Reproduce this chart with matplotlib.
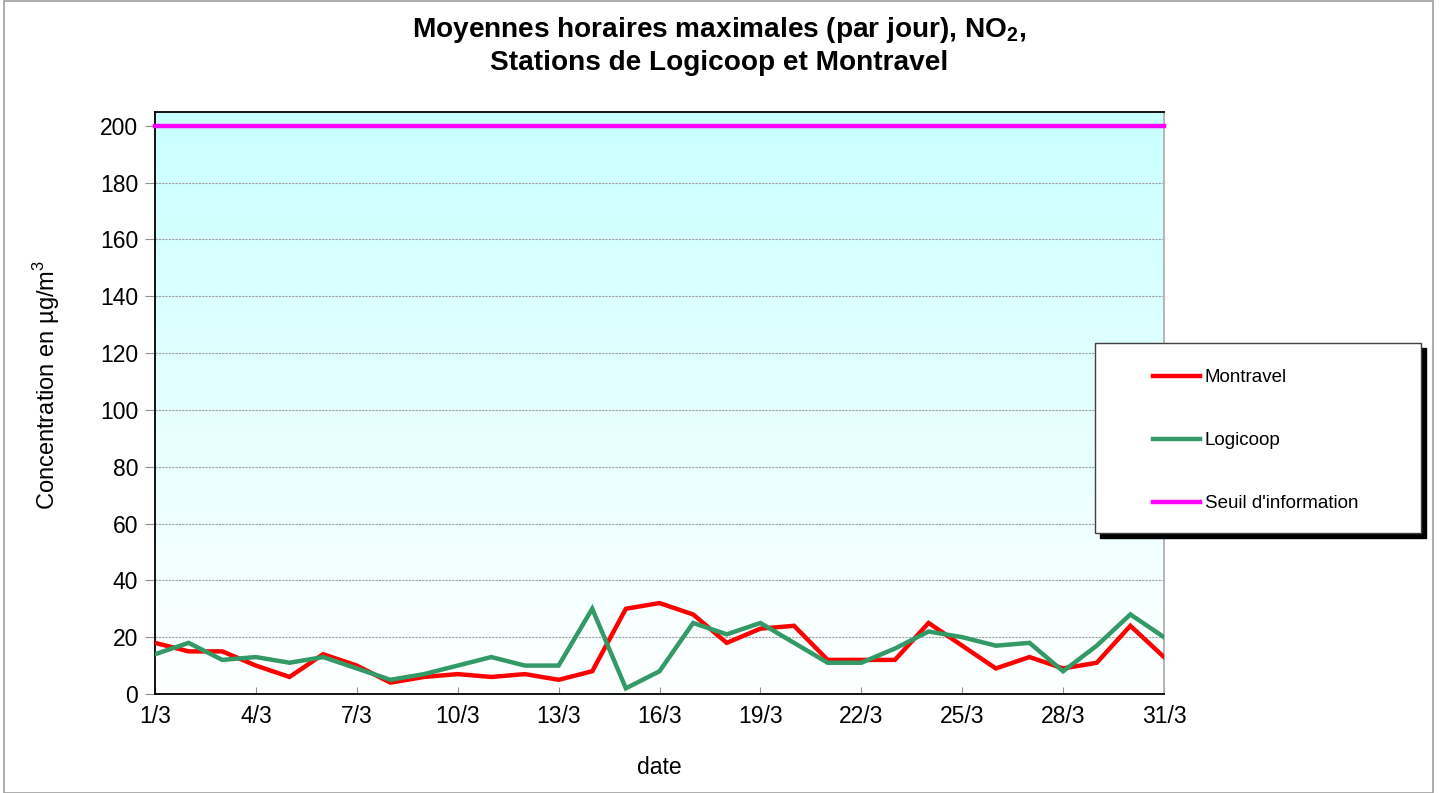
import numpy as np
import matplotlib
matplotlib.use("Agg")
import matplotlib.pyplot as plt
from matplotlib.patches import Rectangle

plt.rcParams['font.family'] = ['Liberation Sans', 'DejaVu Sans']
plt.rcParams['mathtext.fontset'] = 'custom'
plt.rcParams['mathtext.rm'] = 'Liberation Sans'
plt.rcParams['mathtext.bf'] = 'Liberation Sans:bold'

# ---- data ----
days = list(range(1, 32))
montravel = [18, 15, 15, 10, 6, 14, 10, 4, 6, 7, 6, 7, 5, 8, 30, 32, 28, 18, 23, 24,
             12, 12, 12, 25, 17, 9, 13, 9, 11, 24, 13]
logicoop = [14, 18, 12, 13, 11, 13, 9, 5, 7, 10, 13, 10, 10, 30, 2, 8, 25, 21, 25, 18,
            11, 11, 16, 22, 20, 17, 18, 8, 17, 28, 20]
seuil_value = 200
xtick_days = list(range(1, 32, 3))
xtick_labels = [f"{d}/3" for d in xtick_days]
yticks = list(range(0, 201, 20))
series_labels = ["Montravel", "Logicoop", "Seuil d'information"]

W, H = 1439, 793
fig = plt.figure(figsize=(W / 100, H / 100), dpi=100)
fig.patch.set_facecolor('white')

ax = fig.add_axes([155 / W, 1 - 694 / H, (1164 - 155) / W, (694 - 111.5) / H])
ax.set_xlim(1, 31)
ax.set_ylim(0, 205)

# gradient background
grad = np.linspace(0, 1, 256).reshape(-1, 1)
top = np.array([0.79, 1.0, 1.0])
bot = np.array([1.0, 1.0, 1.0])
img = bot + (top - bot) * grad
ax.imshow(img.reshape(256, 1, 3), extent=[1, 31, 0, 205], origin='lower',
          aspect='auto', zorder=0, interpolation='bilinear')

for y in yticks[1:]:
    ax.axhline(y, color='#a0a0a0', lw=0.8, ls=(0, (2, 1)), zorder=1)

l1, = ax.plot(days, montravel, color='#ff0000', lw=3.2, zorder=3, solid_joinstyle='miter')
l2, = ax.plot(days, logicoop, color='#339966', lw=3.2, zorder=4, solid_joinstyle='miter')
l3, = ax.plot([days[0], days[-1]], [seuil_value, seuil_value], color='#ff00ff', lw=3.2,
              zorder=5, clip_on=False)

ax.set_xticks(xtick_days)
ax.set_xticklabels(xtick_labels)
ax.set_yticks(yticks)
ax.tick_params(axis='x', direction='in', length=5, color='#909090', labelsize=16.5, pad=8)
ax.tick_params(axis='y', direction='out', length=7, color='#909090', labelsize=16.5, pad=5)

for s in ['left', 'top', 'bottom']:
    ax.spines[s].set_color('black')
    ax.spines[s].set_linewidth(1.3)
ax.spines['right'].set_color('#b0b0b0')
ax.spines['right'].set_linewidth(1.3)

ax.set_xlabel('date', fontsize=16.5)
ax.xaxis.set_label_coords(0.5, -(768 - 694) / (694 - 111.5))
ax.xaxis.label.set_va('center')
ax.set_ylabel('Concentration en µg/m$^3$', fontsize=17)
ax.yaxis.set_label_coords(-(155 - 47) / (1164 - 155), (694 - 385) / (694 - 111.5))
ax.yaxis.label.set_va('center')

fig.text(0.5 * (155 + 1283) / W, 1 - 30 / H,
         "Moyennes horaires maximales (par jour), NO$_\\mathbf{2}$,",
         ha='center', va='center', fontsize=20.2, fontweight='bold')
fig.text(0.5 * (155 + 1283) / W, 1 - 63 / H, "Stations de Logicoop et Montravel",
         ha='center', va='center', fontsize=20.2, fontweight='bold')

# legend frame with shadow
lx0, ly0, lx1, ly1 = 1095, 343, 1421, 533
fig.patches.append(Rectangle(((lx0 + 5) / W, 1 - (ly1 + 5) / H), (lx1 - lx0) / W, (ly1 - ly0) / H,
                             transform=fig.transFigure, facecolor='black', edgecolor='black',
                             zorder=2))
fig.patches.append(Rectangle((lx0 / W, 1 - ly1 / H), (lx1 - lx0) / W, (ly1 - ly0) / H,
                             transform=fig.transFigure, facecolor='white', edgecolor='#404040',
                             lw=1, zorder=3))
leg = fig.legend([l1, l2, l3], series_labels, loc='upper left',
                 bbox_to_anchor=(1153 / W, 1 - 369 / H), bbox_transform=fig.transFigure,
                 frameon=False, borderpad=0, borderaxespad=0, fontsize=13.5,
                 handlelength=2.5, handletextpad=0.25, labelspacing=2.45)
leg.set_zorder(6)

# figure border
fig.patches.append(Rectangle((4 / W, 0), (1433 - 4) / W, 1 - 1 / H, transform=fig.transFigure,
                             facecolor='none', edgecolor='#a0a0a0', lw=1.2, zorder=10))

fig.savefig('out.png', dpi=100)
